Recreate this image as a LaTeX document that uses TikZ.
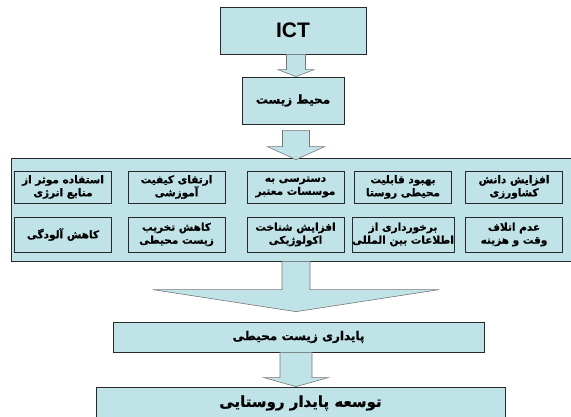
\documentclass[tikz,border=0pt]{standalone}
\usepackage{fontspec}
\setmainfont{Liberation Sans}
\newfontfamily\fafont[Script=Arabic, BoldFeatures={FakeBold=0.8}]{DejaVu Sans}
\TeXXeTstate=1
\usetikzlibrary{calc}
\definecolor{paleblue}{RGB}{192,227,231}
\definecolor{boxline}{RGB}{40,40,40}
\definecolor{arrowline}{RGB}{120,120,120}
\tikzset{
  box/.style = {draw=boxline, fill=paleblue, line width=0.7pt, align=center, inner sep=0pt, text centered},
  goal/.style = {box, font=\fafont\bfseries\fontsize{10.5}{13}\selectfont, minimum width=97pt},
  goal_a/.style = {goal, minimum height=32pt},
  goal_b/.style = {goal, minimum height=35pt},
  barrow/.style = {draw=arrowline, fill=paleblue, line width=0.6pt},
}
\newcommand{\fa}[1]{\beginR#1\endR}
\newcommand{\blockarrow}[7]{
  \draw[barrow] ($(#1.south -| axis)+(-#3,#5)$) -- ($(#2.north -| axis)+(-#3,#6)$)
    -- ($(#2.north -| axis)+(-#4,#6)$) -- ($(#2.north -| axis)+(0,#7)$)
    -- ($(#2.north -| axis)+(#4,#6)$) -- ($(#2.north -| axis)+(#3,#6)$)
    -- ($(#1.south -| axis)+(#3,#5)$) -- cycle;
}

\begin{document}
\begin{tikzpicture}[x=1pt, y=-1pt]
  \useasboundingbox (0,0) rectangle (571,416);
  \coordinate (axis) at (296,0);

  \node [box, minimum width=146pt, minimum height=47pt, font=\bfseries\fontsize{21}{24}\selectfont] (ict) at (293,30.5) {ICT};
  \node [box, minimum width=102pt, minimum height=47pt, font=\fafont\bfseries\fontsize{12}{14}\selectfont] (mohit) at (293,100.5) {\fa{محیط زیست}};

  \node [box, minimum width=570pt, minimum height=103pt] (panel) at (296,209.5) {};
  \node [goal_a] (energy) at (63,187) {\fa{استفاده موثر از}\\\fa{منابع انرژی}};
  \node [goal_a] (edu) at (176.5,187) {\fa{ارتقای کیفیت}\\\fa{آموزشی}};
  \node [goal_a] (access) at (295.5,187) {\fa{دسترسی به}\\\fa{موسسات معتبر}};
  \node [goal_a] (rural) at (403,187) {\fa{بهبود قابلیت}\\\fa{محیطی روستا}};
  \node [goal_a] (agri) at (514,187) {\fa{افزایش دانش}\\\fa{کشاورزی}};
  \node [goal_b] (pollution) at (63,234.5) {\fa{کاهش آلودگی}};
  \node [goal_b] (destruct) at (176.5,234.5) {\fa{کاهش تخریب}\\\fa{زیست محیطی}};
  \node [goal_b] (ecology) at (295.5,234.5) {\fa{افزایش شناخت}\\\fa{اکولوژیکی}};
  \node [goal_b] (info) at (403,234.5) {\fa{برخورداری از}\\\fa{اطلاعات بین المللی}};
  \node [goal_b] (cost) at (514,234.5) {\fa{عدم اتلاف}\\\fa{وقت و هزینه}};

  \node [box, minimum width=371pt, minimum height=30pt, font=\fafont\bfseries\fontsize{12}{14}\selectfont] (stable) at (298.5,337) {\fa{پایداری زیست محیطی}};
  \node [box, minimum width=409pt, minimum height=32pt, font=\fafont\bfseries\fontsize{15}{17}\selectfont] (develop) at (300.5,403) {\fa{توسعه پایدار روستایی}};

  \blockarrow{ict}{mohit}{9.5}{18}{0}{-7}{0}
  \blockarrow{mohit}{panel}{13.5}{28.5}{6}{-11}{2}
  \blockarrow{panel}{stable}{14}{143}{0}{-32}{-10}
  \blockarrow{stable}{develop}{16}{32}{0}{-9}{0}
\end{tikzpicture}
\end{document}
